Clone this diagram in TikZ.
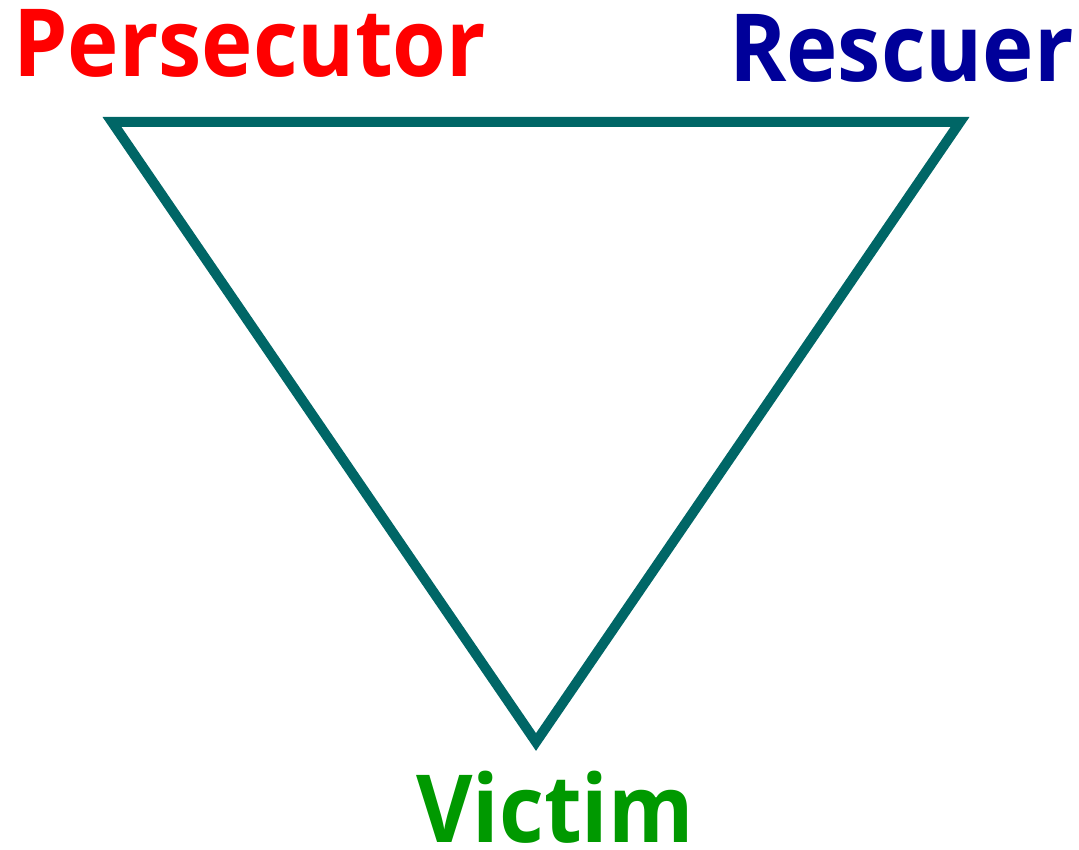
\documentclass[tikz,border=0pt]{standalone}
\usepackage{fontspec}
\setmainfont[FakeStretch=0.925]{Open Sans}
\definecolor{tri}{RGB}{0,102,102}
\definecolor{pers}{RGB}{255,0,0}
\definecolor{resc}{RGB}{0,0,153}
\definecolor{vict}{RGB}{0,153,0}
\tikzset{lbl/.style={inner sep=0pt, font=\fontsize{94}{94}\selectfont\bfseries}}
\begin{document}
\begin{tikzpicture}[x=1pt,y=1pt]
\useasboundingbox (0,0) rectangle (1079,849);
\coordinate (a) at (112,727);
\coordinate (b) at (960,727);
\coordinate (c) at (536,107);
\draw[tri, line width=10pt, line join=miter] (a) -- (b) -- (c) -- cycle;
\node[lbl, text=pers, anchor=base west] (p) at (13,772) {Persecutor};
\node[lbl, text=resc, anchor=base east] (r) at (1074,767) {Rescuer};
\node[lbl, text=vict, anchor=base] (v) at (555,7) {Victim};
\end{tikzpicture}
\end{document}
